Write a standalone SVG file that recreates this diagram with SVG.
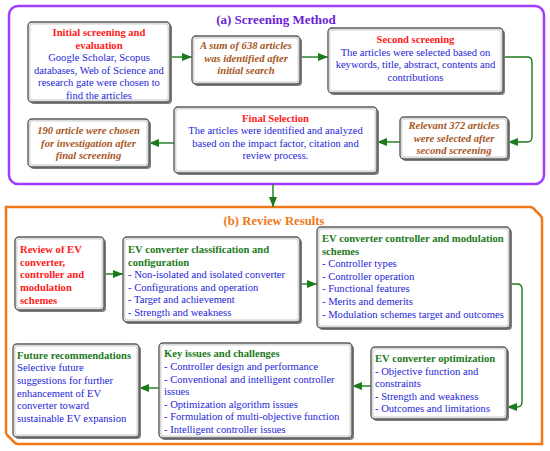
<svg xmlns="http://www.w3.org/2000/svg" width="550" height="451" viewBox="0 0 550 451">
<style>
text{font-family:"Liberation Serif","Times New Roman",serif;font-size:10.6px}
.c{text-anchor:middle}
.r{fill:#ff1a1a;font-weight:bold}
.b{fill:#2424d8}
.g{fill:#1c7a1c;font-weight:bold}
.o{fill:#a8561c;font-weight:bold;font-style:italic}
.sh{fill:#7d7d7d}
.bx{fill:#ffffff;stroke:#5a5a5a;stroke-width:1.4}
.in{fill:none;stroke:#cfcfcf;stroke-width:1.2}
.ln{fill:none;stroke:#1c7a1c;stroke-width:1.4}
</style>
<defs>
<marker id="ah" viewBox="0 0 10 8" refX="10" refY="4" markerWidth="10" markerHeight="8" markerUnits="userSpaceOnUse" orient="auto">
<path d="M0,0 L10,4 L0,8 Z" fill="#1c7a1c"/>
</marker>
</defs>
<rect id="frameA" x="9" y="6" width="535" height="178" rx="9" fill="none" stroke="#a03cff" stroke-width="2.5"/>
<text x="276" y="24" class="c" style="font-size:13px;font-weight:bold;fill:#6a22d6">(a) Screening Method</text>
<path id="frameB" d="M6,207 L530,207 Q532,207 533.5,208.5 L540.5,215.5 Q542,217 542,219 L542,444 L18,444 Q16,444 14.5,442.5 L7.5,435.5 Q6,434 6,432 Z" fill="none" stroke="#f07818" stroke-width="2.5"/>
<text x="274" y="225" class="c" style="font-size:12.7px;font-weight:bold;fill:#f07818">(b) Review Results</text>

<g id="connectors">
<line class="ln" x1="170" y1="57" x2="192" y2="57" marker-end="url(#ah)"/>
<line class="ln" x1="300" y1="57" x2="328" y2="57" marker-end="url(#ah)"/>
<path class="ln" d="M503,57 L527,57 Q532,57 532,62 L532,137 Q532,142 527,142 L508,142" marker-end="url(#ah)"/>
<line class="ln" x1="400" y1="142" x2="377" y2="142" marker-end="url(#ah)"/>
<line class="ln" x1="174" y1="143" x2="149" y2="143" marker-end="url(#ah)"/>
<line class="ln" x1="273" y1="184" x2="273" y2="207" marker-end="url(#ah)"/>
<line class="ln" x1="104" y1="274" x2="123" y2="274" marker-end="url(#ah)"/>
<line class="ln" x1="300" y1="284" x2="317" y2="284" marker-end="url(#ah)"/>
<path class="ln" d="M510,284 L517,284 Q522,284 522,289 L522,402 Q522,407 517,407 L507,407" marker-end="url(#ah)"/>
<line class="ln" x1="371" y1="386" x2="352" y2="386" marker-end="url(#ah)"/>
<line class="ln" x1="159" y1="388" x2="139" y2="388" marker-end="url(#ah)"/>
</g>

<g id="initial">
<rect class="sh" x="30" y="24" width="142" height="80" rx="4"/>
<rect class="bx" x="28" y="22" width="142" height="80" rx="4"/>
<rect class="in" x="29.8" y="23.8" width="138.4" height="76.4" rx="3"/>
<text class="c r" x="99" y="36">Initial screening and</text>
<text class="c r" x="99" y="48.5">evaluation</text>
<text class="c b" x="99" y="61">Google Scholar, Scopus</text>
<text class="c b" x="99" y="73.5">databases, Web of Science and</text>
<text class="c b" x="99" y="86">research gate were chosen to</text>
<text class="c b" x="99" y="98.5">find the articles</text>
</g>

<g id="sum638">
<rect class="sh" x="194" y="38" width="108" height="48" rx="4"/>
<rect class="bx" x="192" y="36" width="108" height="48" rx="4"/>
<rect class="in" x="193.8" y="37.8" width="104.4" height="44.4" rx="3"/>
<text class="c o" x="246" y="49">A sum of 638 articles</text>
<text class="c o" x="246" y="61.5">was identified after</text>
<text class="c o" x="246" y="74">initial search</text>
</g>

<g id="second">
<rect class="sh" x="330" y="30" width="175" height="65" rx="4"/>
<rect class="bx" x="328" y="28" width="175" height="65" rx="4"/>
<rect class="in" x="329.8" y="29.8" width="171.4" height="61.4" rx="3"/>
<text class="c r" x="415.5" y="43">Second screening</text>
<text class="c b" x="415.5" y="55.5">The articles were selected based on</text>
<text class="c b" x="415.5" y="68">keywords, title, abstract, contents and</text>
<text class="c b" x="415.5" y="80.5">contributions</text>
</g>

<g id="relevant">
<rect class="sh" x="402" y="119" width="108" height="42" rx="4"/>
<rect class="bx" x="400" y="117" width="108" height="42" rx="4"/>
<rect class="in" x="401.8" y="118.8" width="104.4" height="38.4" rx="3"/>
<text class="c o" x="454" y="129">Relevant 372 articles</text>
<text class="c o" x="454" y="141.5">were selected after</text>
<text class="c o" x="454" y="154">second screening</text>
</g>

<g id="final">
<rect class="sh" x="176" y="109" width="203" height="66" rx="4"/>
<rect class="bx" x="174" y="107" width="203" height="66" rx="4"/>
<rect class="in" x="175.8" y="108.8" width="199.4" height="62.4" rx="3"/>
<text class="c r" x="275.5" y="121.5">Final Selection</text>
<text class="c b" x="275.5" y="134">The articles were identified and analyzed</text>
<text class="c b" x="275.5" y="146.5">based on the  impact factor, citation and</text>
<text class="c b" x="275.5" y="159">review process.</text>
</g>

<g id="chosen190">
<rect class="sh" x="30" y="121" width="121" height="48" rx="4"/>
<rect class="bx" x="28" y="119" width="121" height="48" rx="4"/>
<rect class="in" x="29.8" y="120.8" width="117.4" height="44.4" rx="3"/>
<text class="c o" x="88.5" y="134">190 article were chosen</text>
<text class="c o" x="88.5" y="146.5">for investigation after</text>
<text class="c o" x="88.5" y="159">final screening</text>
</g>

<g id="review">
<rect class="sh" x="17" y="239" width="89" height="73" rx="4"/>
<rect class="bx" x="15" y="237" width="89" height="73" rx="4"/>
<rect class="in" x="16.8" y="238.8" width="85.4" height="69.4" rx="3"/>
<text class="r" x="20" y="253">Review of EV</text>
<text class="r" x="20" y="265.7">converter,</text>
<text class="r" x="20" y="278.4">controller and</text>
<text class="r" x="20" y="291.1">modulation</text>
<text class="r" x="20" y="303.8">schemes</text>
</g>

<g id="classification">
<rect class="sh" x="125" y="239" width="177" height="85" rx="4"/>
<rect class="bx" x="123" y="237" width="177" height="85" rx="4"/>
<rect class="in" x="124.8" y="238.8" width="173.4" height="81.4" rx="3"/>
<text class="g" x="128" y="253">EV converter classification and</text>
<text class="g" x="128" y="265.5">configuration</text>
<text class="b" x="128" y="278">- Non-isolated and isolated converter</text>
<text class="b" x="128" y="290.5">- Configurations and operation</text>
<text class="b" x="128" y="303">- Target and achievement</text>
<text class="b" x="128" y="315.5">- Strength and weakness</text>
</g>

<g id="controller">
<rect class="sh" x="319" y="229" width="193" height="101" rx="4"/>
<rect class="bx" x="317" y="227" width="193" height="101" rx="4"/>
<rect class="in" x="318.8" y="228.8" width="189.4" height="97.4" rx="3"/>
<text class="g" x="322" y="242">EV converter controller and modulation</text>
<text class="g" x="322" y="254.6">schemes</text>
<text class="b" x="322" y="267.2">- Controller types</text>
<text class="b" x="322" y="279.8">- Controller operation</text>
<text class="b" x="322" y="292.4">- Functional features</text>
<text class="b" x="322" y="305">- Merits and demerits</text>
<text class="b" x="322" y="317.6">- Modulation schemes target and outcomes</text>
</g>

<g id="optimization">
<rect class="sh" x="373" y="349" width="136" height="72" rx="4"/>
<rect class="bx" x="371" y="347" width="136" height="72" rx="4"/>
<rect class="in" x="372.8" y="348.8" width="132.4" height="68.4" rx="3"/>
<text class="g" x="375" y="362">EV converter optimization</text>
<text class="b" x="375" y="374.6">- Objective function and</text>
<text class="b" x="375" y="387.2">constraints</text>
<text class="b" x="375" y="399.8">- Strength and weakness</text>
<text class="b" x="375" y="412.4">- Outcomes and limitations</text>
</g>

<g id="keyissues">
<rect class="sh" x="161" y="345" width="193" height="95" rx="4"/>
<rect class="bx" x="159" y="343" width="193" height="95" rx="4"/>
<rect class="in" x="160.8" y="344.8" width="189.4" height="91.4" rx="3"/>
<text class="g" x="164" y="357">Key issues and challenges</text>
<text class="b" x="164" y="370">- Controller design and performance</text>
<text class="b" x="164" y="382.5">- Conventional and intelligent controller</text>
<text class="b" x="164" y="395">issues</text>
<text class="b" x="164" y="407.5">- Optimization algorithm issues</text>
<text class="b" x="164" y="420">- Formulation of multi-objective function</text>
<text class="b" x="164" y="432.5">- Intelligent controller issues</text>
</g>

<g id="future">
<rect class="sh" x="15" y="346" width="126" height="93" rx="4"/>
<rect class="bx" x="13" y="344" width="126" height="93" rx="4"/>
<rect class="in" x="14.8" y="345.8" width="122.4" height="89.4" rx="3"/>
<text class="g" x="17" y="358.5">Future recommendations</text>
<text class="b" x="17" y="371.2">Selective future</text>
<text class="b" x="17" y="383.9">suggestions for further</text>
<text class="b" x="17" y="396.6">enhancement of EV</text>
<text class="b" x="17" y="409.3">converter toward</text>
<text class="b" x="17" y="422">sustainable EV expansion</text>
</g>
</svg>
